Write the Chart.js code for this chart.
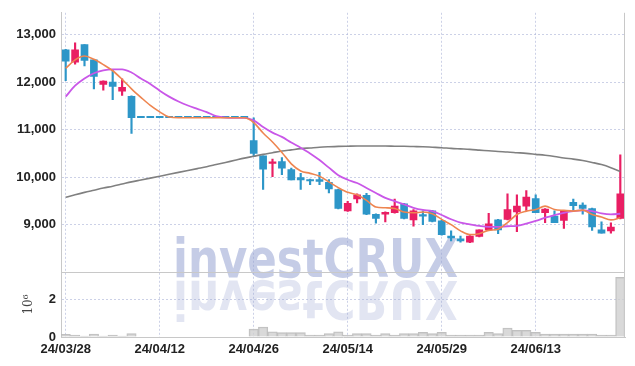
<!DOCTYPE html>
<html>
<head>
<meta charset="utf-8">
<title>investCRUX chart</title>
<script src="https://cdn.jsdelivr.net/npm/chart.js@4.4.1/dist/chart.umd.min.js"></script>
<style>
  html, body { margin: 0; padding: 0; background: #fff; }
</style>
</head>
<body>
<canvas id="chart" width="635" height="366"></canvas>
<script>
// Trading days (yy/mm/dd)
const dates = [
  '24/03/28','24/03/29','24/04/01','24/04/02','24/04/03','24/04/04','24/04/05','24/04/08','24/04/09','24/04/11',
  '24/04/12','24/04/15','24/04/16','24/04/17','24/04/18','24/04/19','24/04/22','24/04/23','24/04/24','24/04/25',
  '24/04/26','24/04/29','24/04/30','24/05/02','24/05/03','24/05/07','24/05/08','24/05/09','24/05/10','24/05/13',
  '24/05/14','24/05/16','24/05/17','24/05/20','24/05/21','24/05/22','24/05/23','24/05/24','24/05/27','24/05/28',
  '24/05/29','24/05/30','24/05/31','24/06/03','24/06/04','24/06/05','24/06/07','24/06/10','24/06/11','24/06/12',
  '24/06/13','24/06/14','24/06/17','24/06/18','24/06/19','24/06/20','24/06/21','24/06/24','24/06/25','24/06/26'
];

const openPrices = [
  12680,12420,12790,12470,11950,12000,11810,11700,11250,11250,
  11250,11250,11250,11250,11250,11250,11250,11250,11250,11250,
  10770,10450,10290,10330,10160,9990,9950,9950,9890,9740,
  9290,9540,9620,9220,9220,9250,9440,9100,9190,9290,
  9080,8760,8700,8630,8750,8890,9100,9110,9270,9390,
  9550,9250,9180,9090,9470,9410,9340,8890,8870,9130
];
const highPrices = [
  12690,12830,12790,12480,12030,12260,12070,11710,11250,11250,
  11250,11250,11250,11250,11250,11250,11250,11250,11250,11250,
  11250,10450,10380,10410,10190,10080,9960,10100,9950,9750,
  9490,9650,9660,9230,9270,9540,9450,9320,9290,9300,
  9090,8870,8760,8770,8890,9240,9110,9650,9630,9720,
  9630,9340,9290,9290,9540,9460,9350,9060,9040,10470
];
const lowPrices = [
  12030,12380,12340,11860,11830,11630,11720,10920,11250,11250,
  11250,11250,11250,11250,11250,11250,11250,11250,11250,11250,
  10450,9740,10010,10050,9940,9740,9840,9840,9670,9330,
  9280,9460,9210,9030,9060,9240,9120,8970,9000,9060,
  8780,8660,8630,8620,8740,8880,8810,9100,8850,9300,
  9250,9040,9040,8920,9290,9220,8880,8820,8820,9120
];
const closePrices = [
  12440,12680,12460,12120,12020,11910,11890,11250,11250,11250,
  11250,11250,11250,11250,11250,11250,11250,11250,11250,11250,
  10500,10170,10310,10190,9940,9940,9920,9910,9750,9340,
  9450,9630,9220,9130,9260,9390,9130,9290,9180,9070,
  8790,8720,8660,8760,8890,9020,8890,9320,9390,9580,
  9250,9330,9040,9290,9400,9340,8950,8820,8950,9650
];

// Moving averages
const ma5 = [
  12290,12470,12550,12480,12370,12240,12060,11860,11680,11510,
  11375,11265,11250,11250,11250,11250,11250,11250,11250,11250,
  11150,10930,10740,10520,10280,10130,10080,10020,9900,9780,
  9680,9630,9510,9370,9355,9340,9265,9250,9265,9230,
  9110,9000,8870,8790,8810,8880,8905,9045,9215,9285,
  9320,9390,9320,9300,9285,9305,9215,9160,9100,9145
];
const ma20 = [
  11695,11925,12077,12188,12250,12271,12271,12202,12077,11960,
  11820,11695,11592,11508,11438,11369,11286,11255,11250,11250,
  11196,11057,10938,10848,10730,10620,10500,10360,10200,10040,
  9946,9876,9772,9667,9563,9494,9425,9355,9310,9286,
  9203,9113,9043,9008,8974,8953,8953,8967,8974,9022,
  9078,9147,9203,9250,9286,9300,9286,9238,9217,9230
];
const ma120 = [
  9575,9630,9680,9725,9770,9810,9855,9900,9940,9980,
  10020,10060,10100,10140,10180,10220,10265,10310,10355,10400,
  10440,10480,10515,10550,10575,10600,10615,10630,10640,10648,
  10652,10655,10655,10655,10655,10652,10650,10645,10640,10630,
  10620,10605,10595,10585,10570,10555,10540,10530,10515,10500,
  10480,10460,10435,10405,10380,10350,10310,10265,10200,10120
];

// Volume (shares)
const volumes = [
  140000,100000,50000,160000,50000,100000,50000,180000,0,0,
  0,0,0,0,0,0,0,0,0,0,
  420000,530000,280000,230000,230000,230000,100000,100000,180000,280000,
  100000,180000,180000,100000,180000,100000,180000,180000,250000,180000,
  250000,100000,100000,100000,100000,250000,180000,480000,350000,350000,
  250000,160000,160000,160000,160000,160000,160000,100000,100000,3170000
];

const priceTicks = [9000, 10000, 11000, 12000, 13000];
const volumeTicks = [0, 2000000];

const UP = '#e91e63';
const DOWN = '#2d96c8';
const GRID = 'rgba(170,178,215,0.6)';
const TICK_FONT = { family: "'Liberation Sans', Arial, sans-serif", size: 13, weight: 'bold' };

const candleColors = closePrices.map((c, i) => c > openPrices[i] ? UP : DOWN);

// watermark with reflection
const watermark = {
  id: 'watermark',
  beforeDatasetsDraw(chart) {
    const ctx = chart.ctx;
    const text = 'investCRUX';
    const font = 'bold 54px "DejaVu Sans", "Liberation Sans", sans-serif';
    ctx.save();
    ctx.font = font;
    const sx = 285 / ctx.measureText(text).width;
    ctx.translate(173, 277);
    ctx.scale(sx, 1);
    ctx.fillStyle = 'rgba(150,162,210,0.55)';
    ctx.fillText(text, 0, 0);
    ctx.restore();
    ctx.save();
    ctx.font = font;
    ctx.translate(173, 281);
    ctx.scale(sx, -1);
    ctx.fillStyle = 'rgba(150,162,210,0.28)';
    ctx.fillText(text, 0, 0);
    ctx.restore();
  }
};

// panel separator + right border
const frame = {
  id: 'frame',
  afterDraw(chart) {
    const ctx = chart.ctx;
    const a = chart.chartArea;
    const sep = chart.scales.yv.top;
    ctx.save();
    ctx.strokeStyle = '#c8c8c8';
    ctx.lineWidth = 1;
    ctx.beginPath();
    ctx.moveTo(a.left, Math.round(sep) + 0.5);
    ctx.lineTo(a.right, Math.round(sep) + 0.5);
    ctx.moveTo(Math.round(a.right) - 0.5, a.top);
    ctx.lineTo(Math.round(a.right) - 0.5, a.bottom);
    ctx.stroke();
    ctx.restore();
  }
};

new Chart(document.getElementById('chart'), {
  type: 'bar',
  data: {
    labels: dates,
    datasets: [
      {
        type: 'line', data: ma5, yAxisID: 'y', order: 0,
        borderColor: '#ee8550', borderWidth: 1.6, pointRadius: 0,
        cubicInterpolationMode: 'monotone'
      },
      {
        type: 'line', data: ma20, yAxisID: 'y', order: 0,
        borderColor: '#c957e8', borderWidth: 1.8, pointRadius: 0,
        cubicInterpolationMode: 'monotone'
      },
      {
        type: 'line', data: ma120, yAxisID: 'y', order: 0,
        borderColor: '#808080', borderWidth: 1.6, pointRadius: 0,
        cubicInterpolationMode: 'monotone'
      },
      {
        data: dates.map((d, i) => [openPrices[i], closePrices[i]]),
        yAxisID: 'y', order: 1, grouped: false,
        barThickness: 7, minBarLength: 1.5,
        backgroundColor: candleColors
      },
      {
        data: dates.map((d, i) => [lowPrices[i], highPrices[i]]),
        yAxisID: 'y', order: 2, grouped: false,
        barThickness: 1.5,
        backgroundColor: candleColors
      },
      {
        data: volumes, yAxisID: 'yv', order: 3, grouped: false,
        barPercentage: 1, categoryPercentage: 1,
        backgroundColor: 'rgba(208,208,208,0.8)',
        borderColor: 'rgba(185,185,185,0.9)', borderWidth: 1
      }
    ]
  },
  options: {
    responsive: false,
    animation: false,
    devicePixelRatio: 1,
    layout: { padding: { top: 9, right: 10, left: 0, bottom: 0 } },
    plugins: { legend: { display: false }, tooltip: { enabled: false } },
    scales: {
      x: {
        type: 'category',
        offset: true,
        grid: {
          offset: false, drawTicks: false,
          color: ctx => ctx.index % 10 === 0 ? GRID : 'rgba(0,0,0,0)'
        },
        border: { color: '#c8c8c8', dash: [2, 2] },
        ticks: {
          autoSkip: false, maxRotation: 0, padding: 5,
          color: '#222', font: TICK_FONT,
          callback: (v, i) => i % 10 === 0 ? dates[i] : ''
        },
        afterFit: s => { s.height = 29; }
      },
      // volume panel first so it is stacked below the price panel
      yv: {
        position: 'left', stack: 'main', stackWeight: 1,
        min: 0, max: 3450000,
        afterBuildTicks: s => { s.ticks = volumeTicks.map(v => ({ value: v })); },
        grid: {
          drawTicks: false,
          color: ctx => ctx.tick && ctx.tick.value === 0 ? 'rgba(0,0,0,0)' : GRID
        },
        border: { color: '#c8c8c8', dash: [2, 2] },
        ticks: {
          padding: 5, color: '#222', font: TICK_FONT,
          callback: v => String(v / 1000000)
        },
        title: {
          display: true, text: '10\u2076', color: '#444',
          font: { family: "'DejaVu Serif', serif", size: 12 },
          padding: { top: 22, bottom: 0 }
        },
        afterFit: s => { s.width = 61; }
      },
      y: {
        position: 'left', stack: 'main', stackWeight: 4,
        min: 8000, max: 13460,
        afterBuildTicks: s => { s.ticks = priceTicks.map(v => ({ value: v })); },
        grid: { drawTicks: false, color: GRID },
        border: { color: '#c8c8c8', dash: [2, 2] },
        ticks: {
          padding: 5, color: '#222', font: TICK_FONT,
          callback: v => v.toLocaleString('en-US')
        },
        afterFit: s => { s.width = 61; }
      }
    }
  },
  plugins: [watermark, frame]
});
</script>
</body>
</html>
